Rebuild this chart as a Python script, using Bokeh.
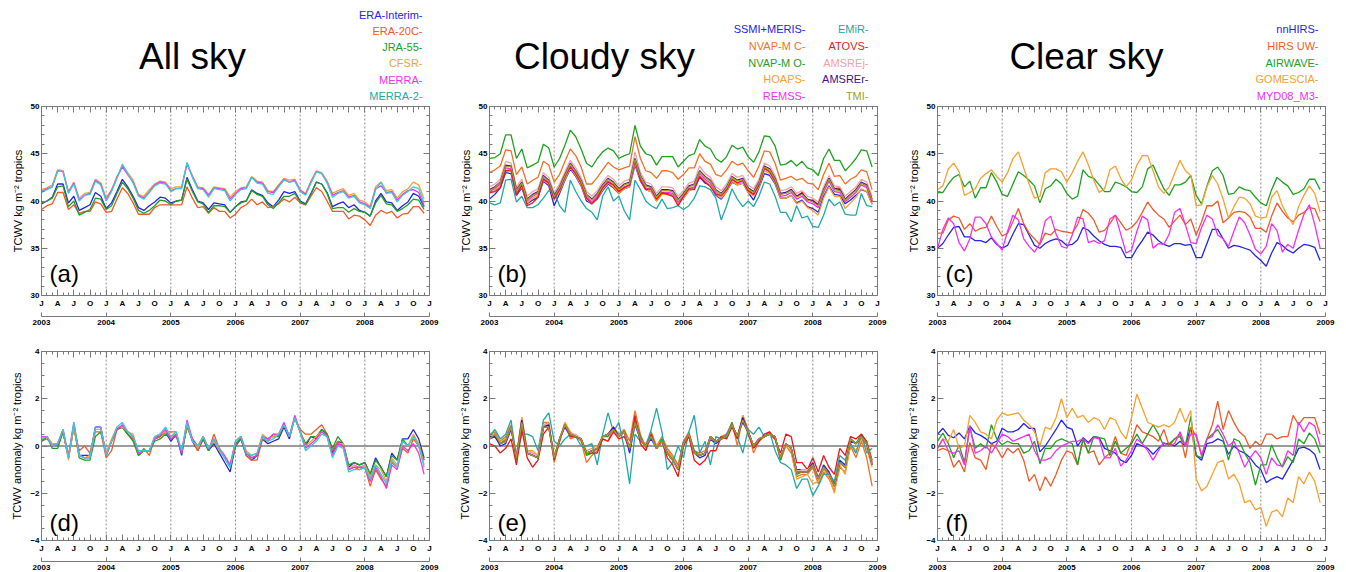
from bokeh.plotting import figure
from bokeh.models import Range1d, FixedTicker, LinearAxis, Span, Label, ColumnDataSource
from bokeh.layouts import column, row
from bokeh.embed import file_html
from bokeh.resources import INLINE
from bokeh.core.properties import value

FONT = "Liberation Sans"
GRAY = "#7a7a7a"

# ---------------- axes / categories ----------------
MONTHS = list(range(72))                 # Jan 2003 ... Dec 2008 (month index)
QUARTER_TICKS = list(range(0, 73, 3))
MONTH_TICKS = list(range(0, 73))
QUARTER_LABELS = ["J", "A", "J", "O"]
YEAR_TICKS = list(range(0, 73, 12))
YEAR_LABELS = ["2003", "2004", "2005", "2006", "2007", "2008", "2009"]
TOP_YTICKS = [30, 35, 40, 45, 50]
TOP_YMINOR = list(range(30, 51))
BOT_YTICKS = [-4, -2, 0, 2, 4]
BOT_YMINOR = [v / 2 for v in range(-8, 9)]

TITLES = ["All sky", "Cloudy sky", "Clear sky"]
YLABEL_TOP = "TCWV kg m\u207b\u00b2 tropics"
YLABEL_BOT = "TCWV anomaly kg m\u207b\u00b2 tropics"

# ---------------- All sky (a) ----------------
ALL_NAMES = ["ERA-Interim", "ERA-20C", "JRA-55", "CFSR", "MERRA", "MERRA-2"]
ALL_TEXT_COLORS = ["#2424e8", "#f05a28", "#20a020", "#f8a030", "#f030f0", "#20a8a8"]
ALL_LINE_COLORS = ["#2424e8", "#f05a28", "#20a020", "#f8a030", "#f030f0", "#33ccdd"]

A_ERAI = [39.7,40.0,40.4,41.8,41.8,39.8,40.5,39.0,39.3,39.6,40.9,40.5,
          39.2,39.8,41.0,42.3,41.5,40.5,39.3,39.0,39.5,39.9,40.4,40.3,
          39.8,40.0,40.1,42.5,41.2,40.0,39.8,39.1,39.8,39.7,39.6,38.8,
          39.4,39.9,40.0,41.2,40.8,40.6,39.8,39.4,40.1,41.0,40.8,41.0,
          40.0,39.7,40.8,42.0,41.8,40.9,39.4,39.7,39.9,39.3,39.6,39.0,
          38.8,38.4,40.0,40.8,39.9,39.8,39.0,39.5,39.9,40.8,40.5,39.4]
A_ERA20C = [39.1,39.5,39.7,40.9,40.9,39.1,39.6,38.7,38.9,38.9,39.9,39.7,
            38.8,38.9,40.2,41.4,40.8,39.8,38.6,38.6,38.6,39.3,39.6,39.6,
            39.6,39.6,39.6,41.5,40.3,39.3,39.4,38.7,39.3,38.9,38.9,38.2,
            38.6,39.3,39.6,40.2,39.6,39.9,39.3,39.4,39.7,40.2,39.9,40.4,
            39.8,39.6,40.5,41.4,41.0,40.0,38.9,38.9,38.9,38.1,38.5,38.4,
            38.0,37.4,38.5,39.0,38.7,38.9,38.2,38.6,38.7,39.4,39.4,38.7]
A_JRA55 = [39.8,40.0,40.3,41.5,41.6,39.4,40.0,38.5,38.8,39.1,40.3,40.2,
           39.1,39.5,40.8,42.0,41.3,40.3,39.0,38.7,39.0,39.5,40.1,40.0,
           39.6,40.0,40.1,42.3,41.0,39.9,39.7,38.8,39.5,39.5,39.4,38.8,
           39.4,39.8,40.0,41.1,40.7,40.5,39.6,39.2,39.8,40.5,40.5,40.8,
           39.9,39.6,40.7,42.0,41.8,40.8,39.2,39.3,39.3,38.8,39.2,38.9,
           38.8,38.4,39.8,40.6,39.7,39.6,38.9,39.2,39.6,40.2,40.1,39.1]
A_CFSR = [41.2,41.4,41.7,43.3,43.2,41.0,42.0,40.3,40.8,40.9,42.3,41.9,
          40.3,41.2,42.6,43.7,43.0,42.2,40.7,40.5,41.2,41.8,42.1,42.0,
          41.3,41.5,41.5,44.0,42.7,41.5,41.4,40.7,41.5,41.4,41.3,40.4,
          41.0,41.4,41.5,42.6,42.1,42.0,41.1,41.0,41.7,42.4,42.2,42.3,
          41.2,40.8,42.1,43.2,43.0,42.1,40.8,41.1,41.3,40.6,40.8,40.1,
          39.9,39.4,41.5,42.0,41.1,41.2,40.3,41.0,41.3,42.0,41.7,40.2]
A_MERRA = [41.0,41.3,41.5,43.2,43.1,40.9,41.9,40.1,40.6,40.8,42.2,41.8,
           40.1,41.1,42.5,43.6,42.8,42.0,40.6,40.3,41.0,41.7,42.0,41.9,
           41.1,41.3,41.4,43.9,42.6,41.4,41.3,40.6,41.4,41.3,41.2,40.2,
           40.8,41.3,41.4,42.5,42.0,41.9,41.0,40.9,41.6,42.3,42.0,42.2,
           41.1,40.7,42.0,43.1,42.9,42.0,40.6,40.9,41.1,40.4,40.6,39.9,
           39.7,39.3,41.3,41.6,40.9,41.0,40.1,40.7,41.1,41.2,40.9,39.5]
A_MERRA2 = [40.9,41.2,41.5,43.2,43.1,40.8,41.8,40.0,40.6,40.7,42.1,41.7,
            40.0,41.0,42.4,43.9,42.9,41.9,40.5,40.2,40.9,41.6,41.9,41.8,
            41.0,41.3,41.3,44.1,42.5,41.3,41.2,40.4,41.3,41.2,41.1,40.0,
            40.7,41.2,41.3,42.5,41.9,41.8,40.8,40.7,41.5,42.2,42.0,42.1,
            41.0,40.6,41.9,43.1,42.9,41.9,40.4,40.8,41.0,40.3,40.5,39.8,
            39.6,39.2,41.2,42.0,40.8,40.9,39.9,40.6,41.0,41.5,41.3,39.8]

# ---------------- All sky anomalies (d) ----------------
D_ERAI = [0.2,0.4,0.0,0.1,0.6,-0.5,0.9,-0.4,-0.4,-0.4,0.8,0.8,
          -0.4,0.2,0.7,0.8,0.5,0.3,-0.3,-0.2,-0.2,0.3,0.4,0.6,
          0.2,0.5,-0.4,0.9,0.2,-0.2,0.3,-0.2,0.1,-0.3,-0.7,-1.1,
          0.0,0.3,-0.4,-0.6,-0.4,0.3,0.1,0.2,0.3,0.8,0.3,1.2,
          0.6,0.0,0.4,0.3,0.7,0.5,-0.3,0.2,0.1,-0.9,-0.7,-0.8,
          -0.7,-1.2,-0.5,-0.9,-1.3,-0.3,-0.6,0.3,0.3,0.7,0.3,-0.5]
D_ERA20C = [0.2,0.3,0.1,0.0,0.6,-0.5,0.8,-0.2,0.0,-0.3,0.6,0.6,
            -0.5,-0.2,0.7,0.8,0.5,0.3,-0.4,-0.1,-0.4,0.3,0.4,0.6,
            0.6,0.6,-0.3,0.8,0.3,-0.2,0.3,-0.2,0.5,-0.1,-0.5,-0.9,
            0.0,0.4,-0.4,-0.6,-0.6,0.3,0.2,0.5,0.4,0.9,0.4,1.2,
            0.7,0.5,0.5,0.7,0.9,0.5,-0.2,0.2,0.0,-1.0,-0.9,-1.0,
            -0.9,-1.7,-1.0,-1.4,-1.7,-0.7,-0.9,-0.1,-0.3,0.3,0.0,-0.6]
D_JRA55 = [0.2,0.4,-0.1,-0.1,0.6,-0.5,0.8,-0.5,-0.6,-0.6,0.4,0.6,
           -0.3,0.2,0.7,0.8,0.5,0.2,-0.4,-0.2,-0.2,0.2,0.3,0.5,
           0.3,0.4,-0.2,0.8,0.3,-0.1,0.3,-0.2,0.2,-0.2,-0.5,-0.9,
           0.1,0.3,-0.3,-0.5,-0.4,0.4,0.3,0.4,0.4,0.9,0.4,1.2,
           0.6,0.1,0.4,0.4,0.7,0.5,-0.1,0.4,0.1,-0.8,-0.7,-0.8,
           -0.7,-1.2,-0.6,-0.9,-1.3,-0.4,-0.6,0.3,0.0,0.4,0.1,-0.6]
D_CFSR = [0.3,0.4,0.1,0.1,0.7,-0.6,0.8,-0.4,-0.5,-0.4,0.7,0.7,
          -0.3,0.3,0.8,0.8,0.6,0.5,-0.3,-0.2,-0.2,0.4,0.5,0.6,
          0.4,0.5,-0.2,0.9,0.3,-0.1,0.4,-0.1,0.2,-0.2,-0.5,-0.8,
          0.2,0.4,-0.2,-0.4,-0.3,0.5,0.3,0.4,0.5,0.9,0.4,1.2,
          0.6,0.0,0.2,0.4,0.6,0.4,-0.4,0.1,0.1,-1.0,-0.8,-0.9,
          -0.8,-1.3,-0.8,-1.0,-1.5,-0.5,-0.8,0.2,0.0,0.5,0.1,-0.8]
D_MERRA = [0.4,0.4,0.0,0.1,0.7,-0.4,1.0,-0.4,-0.5,-0.5,0.8,0.8,
           -0.4,0.2,0.7,0.9,0.6,0.4,-0.3,-0.2,-0.2,0.3,0.5,0.7,
           0.3,0.5,-0.3,1.1,0.3,0.0,0.4,-0.1,0.3,-0.1,-0.4,-0.8,
           0.2,0.4,-0.3,-0.5,-0.4,0.4,0.3,0.5,0.5,1.0,0.4,1.3,
           0.6,-0.1,0.1,0.3,0.6,0.4,-0.4,0.1,0.0,-1.0,-0.9,-0.9,
           -0.9,-1.5,-0.9,-1.3,-1.8,-0.8,-1.0,0.0,-0.2,0.1,-0.3,-1.2]
D_MERRA2 = [0.3,0.4,0.0,0.1,0.7,-0.5,1.0,-0.4,-0.5,-0.5,0.8,0.8,
            -0.4,0.2,0.8,1.0,0.6,0.4,-0.2,-0.2,-0.2,0.4,0.5,0.8,
            0.4,0.6,-0.2,1.0,0.2,0.0,0.4,-0.1,0.3,-0.1,-0.5,-0.9,
            0.2,0.4,-0.3,-0.4,-0.3,0.4,0.2,0.3,0.5,0.9,0.4,1.2,
            0.6,-0.2,0.0,0.2,0.5,0.4,-0.5,0.0,-0.1,-1.1,-1.0,-1.0,
            -0.9,-1.4,-0.8,-1.2,-1.6,-0.6,-0.9,0.2,0.0,0.4,0.0,-0.9]

# ---------------- Cloudy sky (b) ----------------
CLD_NAMES = ["SSMI+MERIS", "NVAP-M C", "NVAP-M O", "HOAPS", "REMSS",
             "EMiR", "ATOVS", "AMSREj", "AMSREr", "TMI"]
CLD_COLORS = ["#2424e8", "#f07028", "#20a020", "#f8a030", "#f030f0",
              "#20a8a8", "#e81818", "#f4a0a8", "#3a1090", "#a0a020"]

B_SSMI = [40.2,40.7,41.4,43.0,42.9,40.6,41.4,39.7,40.1,40.4,42.1,41.6,
          39.5,40.8,42.2,43.4,42.6,41.6,40.0,39.7,40.2,41.1,41.8,41.4,
          40.8,41.3,41.5,43.8,42.1,41.2,41.0,40.0,40.8,40.8,40.6,39.7,
          40.3,41.1,41.3,42.5,41.9,41.7,40.6,40.2,41.0,42.0,41.7,41.9,
          40.9,40.1,41.4,42.9,42.7,41.8,40.3,40.3,40.6,39.8,40.1,39.4,
          39.2,38.8,40.5,41.6,40.7,40.6,39.7,40.1,40.6,41.2,41.0,39.7]
B_NVAPC = [43.0,43.3,43.7,45.4,45.3,42.8,43.6,41.8,42.2,42.5,44.2,43.8,
           42.0,42.8,44.2,45.5,44.8,43.6,41.8,41.8,42.5,43.3,44.1,43.6,
           43.3,43.5,43.7,46.8,44.5,43.2,43.0,42.4,43.2,43.2,43.0,42.3,
           42.8,43.5,43.5,45.0,44.2,43.9,42.8,42.6,43.3,44.2,43.8,44.0,
           43.2,42.5,43.7,45.3,45.2,44.0,42.2,42.4,42.6,42.2,42.4,41.9,
           41.8,41.2,42.8,44.0,42.6,42.7,41.8,42.3,42.6,43.3,43.1,41.2]
B_NVAPO = [44.5,44.6,45.0,47.0,47.0,44.5,45.5,43.5,43.8,44.1,46.0,45.6,
           43.6,44.5,45.9,47.5,46.8,45.5,44.0,43.6,44.5,45.2,45.6,45.3,
           44.5,44.8,45.0,48.0,45.8,45.0,44.8,43.8,44.7,44.7,44.7,43.6,
           44.2,44.8,45.0,46.5,45.8,45.5,44.5,44.1,44.7,45.9,45.5,45.7,
           44.7,44.1,45.2,46.9,46.8,45.8,43.8,43.9,44.3,43.7,44.2,43.5,
           43.3,42.7,44.5,45.5,44.3,44.3,43.2,43.8,44.5,45.4,45.3,43.6]
B_HOAPS = [40.8,41.1,41.6,43.2,43.1,40.8,41.5,39.8,40.3,40.6,42.2,41.8,
           40.1,41.0,42.3,43.5,42.7,41.7,40.2,39.7,40.3,41.2,41.9,41.5,
           40.8,41.3,41.5,44.0,42.2,41.2,41.0,40.0,40.7,40.7,40.6,39.7,
           40.3,41.1,41.3,42.7,42.1,41.7,40.7,40.3,41.0,42.1,41.7,41.9,
           40.9,40.5,41.5,43.2,42.9,41.9,40.3,40.3,40.6,39.7,40.0,39.3,
           39.0,38.5,40.3,41.5,40.5,40.5,39.2,39.8,40.4,41.3,41.0,39.6]
B_REMSS = [41.0,41.3,41.8,43.5,43.4,40.9,41.8,40.0,40.5,40.8,42.4,41.9,
           40.3,41.2,42.5,43.7,42.9,41.9,40.4,39.9,40.5,41.4,42.1,41.7,
           41.0,41.5,41.7,44.1,42.4,41.4,41.2,40.2,40.9,40.9,40.8,39.9,
           40.5,41.3,41.5,42.9,42.3,41.9,40.9,40.5,41.2,42.3,41.9,42.1,
           41.1,40.7,41.7,43.4,43.1,42.1,40.5,40.6,40.9,40.2,40.5,39.9,
           39.7,39.3,40.9,42.1,41.0,40.9,39.9,40.4,40.9,41.7,41.4,39.9]
B_EMIR = [39.8,39.6,39.8,42.2,42.3,39.9,40.5,39.3,39.3,39.6,40.3,41.1,
          41.0,39.5,38.8,42.2,41.0,40.0,39.2,38.8,38.0,40.5,41.5,40.0,
          40.5,39.0,38.0,42.2,41.2,40.0,39.5,39.2,40.2,39.2,39.3,39.5,
          39.1,39.5,40.3,41.6,41.5,41.2,40.3,38.0,39.5,41.3,40.2,39.4,
          40.0,39.4,40.5,42.0,41.8,40.5,38.8,38.8,37.8,39.5,38.2,38.4,
          37.3,37.2,38.5,40.2,39.5,39.9,38.6,38.5,38.5,40.8,39.5,39.4]
B_ATOVS = [40.9,41.0,41.4,43.2,43.3,40.6,41.7,39.5,39.8,40.4,42.3,41.9,
           40.2,41.2,42.6,43.6,42.9,41.9,40.3,39.7,40.3,41.4,42.0,41.7,
           41.0,41.4,41.7,44.4,42.2,41.2,41.3,40.2,40.9,40.7,40.5,39.5,
           40.5,41.3,41.2,42.6,42.0,41.5,40.7,40.6,41.2,42.3,41.9,42.2,
           41.1,40.7,41.7,43.5,43.1,42.1,40.7,40.9,41.2,40.5,40.9,40.1,
           40.1,39.6,41.3,42.3,41.3,41.4,40.1,40.7,41.2,41.9,41.6,40.0]
B_AMSREJ = [41.5,41.8,42.3,44.2,44.0,41.5,42.3,40.5,41.0,41.3,43.0,42.5,
            40.9,41.8,43.1,44.3,43.5,42.5,41.0,40.5,41.1,42.0,42.7,42.3,
            41.6,42.1,42.3,45.2,43.0,42.0,41.8,40.8,41.5,41.5,41.4,40.5,
            41.1,41.9,42.1,43.7,42.9,42.5,41.5,41.1,41.8,42.9,42.5,42.7,
            41.7,41.3,42.3,44.0,43.7,42.7,41.1,41.2,41.5,40.8,41.1,40.5,
            40.3,39.9,41.5,42.7,41.6,41.5,40.5,41.0,41.5,42.3,42.0,40.5]
B_AMSRER = [41.2,41.5,42.0,43.8,43.7,41.2,42.0,40.2,40.7,41.0,42.7,42.2,
            40.6,41.5,42.8,44.0,43.2,42.2,40.7,40.2,40.8,41.7,42.4,42.0,
            41.3,41.8,42.0,44.5,42.7,41.7,41.5,40.5,41.2,41.2,41.1,40.2,
            40.8,41.6,41.8,43.2,42.6,42.2,41.2,40.8,41.5,42.6,42.2,42.4,
            41.4,41.0,42.0,43.7,43.4,42.4,40.8,40.9,41.2,40.5,40.8,40.2,
            40.0,39.6,41.2,42.4,41.3,41.2,40.2,40.7,41.2,42.0,41.7,40.2]
B_TMI = [41.1,41.4,42.0,43.7,43.6,41.1,41.9,40.1,40.6,40.9,42.6,42.1,
         40.5,41.4,42.7,43.9,43.1,42.1,40.6,40.1,40.7,41.6,42.3,41.9,
         41.2,41.7,41.9,44.4,42.6,41.6,41.4,40.4,41.1,41.1,41.0,40.1,
         40.7,41.5,41.7,43.1,42.5,42.1,41.1,40.7,41.4,42.5,42.1,42.3,
         41.3,40.9,41.9,43.6,43.3,42.3,40.7,40.8,41.1,40.4,40.7,40.1,
         39.9,39.5,41.1,42.3,41.2,41.1,40.1,40.6,41.1,41.9,41.6,40.1]

# ---------------- Cloudy sky anomalies (e) ----------------
E_SSMI = [0.3,0.4,0.0,0.1,0.7,-0.4,1.0,-0.3,-0.4,-0.5,0.8,0.8,
          -0.5,0.3,0.8,0.4,0.4,0.3,-0.3,-0.2,-0.1,0.4,0.5,0.7,
          0.4,0.6,-0.3,0.9,0.3,0.0,0.3,-0.1,0.2,-0.3,-0.6,-0.9,
          0.2,0.5,-0.3,-0.5,-0.4,0.3,0.1,0.3,0.4,0.9,0.4,1.0,
          0.6,0.0,0.3,0.4,0.5,0.3,-0.5,0.1,-0.1,-1.0,-1.0,-1.0,
          -0.7,-1.4,-0.8,-1.1,-1.6,-0.6,-0.8,0.2,0.1,0.3,0.1,-0.7]
E_NVAPC = [0.5,0.6,0.2,0.4,0.9,-0.5,1.2,-0.2,-0.3,-0.4,1.0,1.0,
           -0.7,0.2,1.0,0.3,0.4,0.2,-0.7,-0.4,-0.2,0.3,0.2,0.8,
           0.5,0.7,0.2,1.5,0.5,-0.1,0.6,0.0,0.4,-0.1,-0.4,-0.8,
           0.2,0.6,-0.2,-0.3,-0.2,0.3,0.2,0.4,0.5,1.0,0.0,1.3,
           0.7,-0.3,0.2,0.4,0.5,0.3,-0.6,0.0,-0.3,-1.3,-1.2,-1.2,
           -0.9,-1.6,-1.1,-1.4,-1.9,-0.9,-1.1,0.0,-0.5,0.2,-0.5,-1.7]
E_NVAPO = [0.4,0.5,0.1,0.3,0.8,-0.6,1.1,-0.3,-0.4,-0.5,0.9,0.9,
           -0.5,0.3,0.9,0.5,0.4,0.3,-0.4,-0.3,-0.1,0.4,0.4,0.8,
           0.4,0.6,-0.1,1.1,0.4,0.0,0.5,-0.1,0.3,-0.2,-0.5,-0.9,
           0.1,0.5,-0.2,-0.4,-0.3,0.4,0.2,0.3,0.4,1.0,0.3,1.2,
           0.6,0.0,0.3,0.4,0.5,0.4,-0.6,0.1,-0.1,-1.2,-1.1,-1.1,
           -0.8,-1.3,-0.9,-1.2,-1.7,-0.7,-0.9,0.3,0.1,0.5,0.1,-0.8]
E_HOAPS = [0.5,0.5,0.2,0.3,0.8,-0.4,1.2,-0.2,-0.2,-0.4,0.9,1.0,
           -0.4,0.3,1.0,0.6,0.4,0.3,-0.2,-0.1,0.0,0.4,0.5,0.8,
           0.4,0.6,-0.1,1.0,0.3,0.1,0.5,0.0,0.2,-0.2,-0.5,-0.9,
           0.1,0.4,-0.3,-0.4,-0.3,0.4,0.2,0.3,0.4,0.9,0.4,1.3,
           0.6,0.0,0.3,0.4,0.5,0.4,-0.5,0.0,-0.2,-1.4,-1.3,-1.2,
           -1.6,-1.5,-1.0,-1.3,-2.0,-0.8,-1.2,0.1,-0.2,0.3,-0.1,-0.9]
E_REMSS = [0.4,0.5,0.1,0.2,0.8,-0.5,1.1,-0.3,-0.4,-0.5,0.8,0.9,
           -0.5,0.3,0.9,0.5,0.4,0.3,-0.3,-0.2,-0.1,0.4,0.5,0.8,
           0.4,0.6,-0.1,1.0,0.3,0.0,0.4,-0.1,0.2,-0.3,-0.6,-1.0,
           0.1,0.5,-0.3,-0.4,-0.3,0.4,0.2,0.3,0.4,0.9,0.4,1.2,
           0.6,0.0,0.3,0.4,0.5,0.4,-0.5,0.1,-0.1,-1.1,-1.1,-1.1,
           -0.8,-1.4,-0.9,-1.2,-1.7,-0.7,-0.9,0.3,0.1,0.4,0.1,-0.8]
E_EMIR = [0.4,0.7,0.3,0.5,1.1,-0.5,0.5,0.5,0.4,-0.2,1.1,1.4,
          0.2,0.0,0.3,0.5,0.4,0.0,0.0,0.1,-0.8,0.5,1.4,0.6,
          1.0,-0.1,-1.6,0.5,0.2,0.0,0.7,1.6,0.6,-1.0,-0.7,0.0,
          -0.5,0.6,1.3,-0.3,0.2,-0.8,0.4,0.3,0.5,0.9,0.4,-0.3,
          0.7,0.5,0.8,0.4,0.6,-0.2,-0.7,-0.8,-1.0,-1.8,-1.4,-1.4,
          -2.1,-1.7,-1.2,-1.2,-1.5,-0.4,-0.6,0.1,-0.3,0.5,-0.3,-0.1]
E_ATOVS = [0.1,0.0,-0.3,-0.1,0.3,-0.8,0.7,-0.5,-0.9,-0.6,0.5,0.8,
           -0.6,0.2,0.9,0.4,0.4,0.3,-0.3,-0.3,-0.3,0.3,0.2,0.6,
           0.3,0.4,-0.1,1.3,0.1,-0.2,0.5,-0.1,0.2,-0.5,-0.8,-1.3,
           0.0,0.4,-0.6,-0.8,-0.6,-0.2,-0.2,0.4,0.3,0.8,0.3,1.2,
           0.5,-0.1,0.2,0.5,0.6,0.3,-0.3,0.5,0.4,-0.7,-0.7,-1.0,
           -0.5,-1.1,-0.4,-0.9,-1.2,-0.1,-0.4,0.4,0.3,0.5,0.2,-0.6]
E_AMSREJ = [0.4,0.5,0.1,0.2,0.8,-0.4,1.1,-0.2,-0.3,-0.4,0.9,0.9,
            -0.5,0.3,0.9,0.5,0.5,0.3,-0.3,-0.2,-0.1,0.4,0.5,0.8,
            0.4,0.6,-0.1,1.0,0.3,0.0,0.4,-0.1,0.2,-0.3,-0.6,-0.9,
            0.1,0.5,-0.3,-0.4,-0.3,0.4,0.2,0.3,0.4,0.9,0.4,1.2,
            0.6,0.0,0.3,0.4,0.5,0.4,-0.5,0.1,-0.1,-1.1,-1.0,-1.0,
            -0.8,-1.4,-0.9,-1.2,-1.7,-0.7,-0.9,0.3,0.1,0.4,0.1,-0.7]
E_AMSRER = [0.4,0.4,0.1,0.2,0.8,-0.5,1.1,-0.3,-0.4,-0.5,0.8,0.9,
            -0.5,0.3,0.9,0.5,0.4,0.3,-0.3,-0.2,-0.1,0.4,0.5,0.8,
            0.4,0.6,-0.1,1.0,0.3,0.0,0.4,-0.1,0.2,-0.3,-0.6,-1.0,
            0.1,0.5,-0.3,-0.4,-0.3,0.4,0.2,0.3,0.4,0.9,0.4,1.2,
            0.6,0.0,0.3,0.4,0.5,0.4,-0.5,0.1,-0.1,-1.1,-1.1,-1.1,
            -0.8,-1.4,-0.9,-1.2,-1.7,-0.7,-0.9,0.3,0.1,0.4,0.1,-0.8]
E_TMI = [0.3,0.5,0.1,0.2,0.8,-0.5,1.0,-0.3,-0.4,-0.5,0.8,0.8,
         -0.5,0.3,0.9,0.5,0.4,0.3,-0.3,-0.2,-0.1,0.4,0.5,0.7,
         0.4,0.6,-0.1,1.0,0.3,0.0,0.4,-0.1,0.2,-0.3,-0.6,-1.0,
         0.1,0.5,-0.3,-0.4,-0.3,0.4,0.2,0.3,0.4,0.9,0.4,1.1,
         0.6,0.0,0.3,0.4,0.5,0.4,-0.5,0.1,-0.1,-1.1,-1.1,-1.1,
         -0.8,-1.4,-0.9,-1.2,-1.7,-0.7,-0.9,0.3,0.1,0.4,0.1,-0.8]

# ---------------- Clear sky (c) ----------------
CLR_NAMES = ["nnHIRS", "HIRS UW", "AIRWAVE", "GOMESCIA", "MYD08_M3"]
CLR_COLORS = ["#2424e8", "#f05a28", "#20a020", "#f8a030", "#f030f0"]

C_NNHIRS = [35.0,35.5,36.4,37.2,37.3,36.2,36.2,35.8,35.8,35.6,36.1,35.4,
            35.0,35.3,36.5,37.6,37.5,36.4,35.3,35.0,35.5,35.8,36.0,35.8,
            35.3,35.4,35.9,37.2,36.9,36.3,35.8,35.4,35.2,35.2,35.1,34.0,
            34.0,35.0,35.8,36.7,36.4,35.8,35.4,35.2,35.5,35.5,35.3,35.4,
            34.0,34.0,35.5,37.0,37.0,36.0,35.0,35.3,35.2,35.0,34.8,34.2,
            33.7,33.1,34.5,35.6,35.3,34.8,34.5,35.0,35.4,35.3,35.1,33.7]
C_HIRSUW = [36.6,36.6,38.0,38.4,38.2,37.0,37.6,36.8,37.1,37.2,38.4,37.3,
            36.3,36.6,37.8,39.2,37.6,36.6,36.0,35.4,36.6,36.4,37.0,36.8,
            36.7,36.6,37.5,39.1,38.7,38.0,36.7,36.9,37.6,38.5,37.7,36.9,
            37.2,37.8,38.8,39.9,39.1,38.5,38.1,37.2,37.9,38.5,37.5,38.1,
            36.4,37.8,39.5,39.5,40.0,37.7,38.2,38.8,38.9,38.8,38.3,37.1,
            37.1,36.7,38.4,39.8,38.9,38.2,37.8,38.5,38.8,39.3,39.2,37.8]
C_AIRWAVE = [40.9,40.9,41.8,42.5,42.8,41.5,42.1,40.3,41.4,41.4,43.0,42.0,
             40.7,40.5,41.8,43.1,42.7,42.2,41.6,39.8,41.3,41.6,42.3,41.8,
             40.8,40.2,40.5,43.3,42.6,42.4,41.7,41.0,41.0,42.0,41.8,41.5,
             41.0,40.9,41.5,43.4,43.8,42.5,41.3,40.6,41.7,41.7,42.0,42.7,
             40.6,39.7,41.6,43.2,43.6,42.7,40.7,40.8,41.5,41.2,41.1,40.4,
             39.8,39.5,41.2,42.5,42.0,41.6,40.7,40.9,41.3,42.3,42.3,41.2]
C_GOMESCIA = [41.2,41.6,43.4,44.0,43.1,40.6,40.9,41.3,42.4,42.9,43.3,42.6,
              42.0,43.0,44.5,45.2,43.5,41.8,40.3,40.5,43.0,43.4,43.4,43.1,
              42.0,43.0,44.2,45.2,43.8,42.2,40.9,41.3,43.3,43.7,42.4,41.5,
              42.2,43.8,44.8,44.8,43.2,41.5,40.8,41.5,42.9,44.3,43.2,42.7,
              39.5,39.6,41.5,42.7,41.8,40.2,38.2,39.4,40.4,40.3,39.7,38.4,
              38.2,38.3,40.4,41.1,39.5,38.4,37.5,39.4,40.6,41.6,40.8,38.8]
C_MYD08 = [35.0,37.0,38.2,37.6,35.6,34.7,36.0,38.3,38.3,37.6,36.2,35.5,
           34.8,36.8,38.5,38.0,36.0,35.2,34.6,35.5,37.9,38.4,36.5,35.2,
           35.0,36.4,38.3,38.1,35.6,35.8,35.5,35.8,38.1,38.5,36.5,34.5,
           34.8,36.8,38.4,38.0,35.0,35.5,35.4,36.5,38.8,39.2,37.5,35.6,
           35.5,37.2,38.5,38.1,36.4,36.0,35.2,36.8,38.3,37.7,36.4,34.9,
           34.4,35.2,37.6,36.9,34.6,35.4,35.0,36.9,38.6,39.6,37.5,35.0]

# ---------------- Clear sky anomalies (f) ----------------
F_NNHIRS = [0.5,0.75,0.45,0.35,0.55,0.3,0.85,0.55,0.45,0.3,0.1,0.2,
            0.75,0.6,0.6,0.7,0.95,0.75,0.75,-0.25,0.0,0.35,0.7,1.1,
            0.8,0.7,0.0,0.35,0.15,0.4,0.35,-0.1,-0.2,-0.3,-0.6,-0.7,
            -0.4,0.1,0.0,-0.1,-0.35,-0.1,0.1,0.1,0.0,0.2,0.0,0.8,
            -0.4,-0.6,0.1,0.15,0.3,0.2,-0.35,0.0,-0.2,-0.3,-0.5,-0.8,
            -1.0,-1.55,-1.4,-1.3,-1.4,-1.0,-0.6,-0.1,-0.05,-0.15,-0.35,-1.0]
F_HIRSUW = [-0.2,-0.1,-0.2,-0.9,-0.6,-1.1,0.15,-0.5,-0.6,-1.0,0.1,-0.1,
            -0.5,-0.1,-0.3,-0.1,-0.6,-1.5,-1.2,-1.9,-1.3,-1.7,-1.2,-0.6,
            -0.2,-0.3,-0.8,0.3,-0.3,-0.2,-0.8,-0.5,-0.3,0.4,-0.3,-0.4,
            0.2,0.9,0.6,0.5,0.4,0.2,0.7,0.0,0.3,0.5,-0.5,0.8,
            0.4,-0.4,0.3,0.9,1.9,0.7,1.5,1.0,0.6,0.4,-0.1,0.2,
            0.0,0.5,0.5,0.3,0.4,0.4,1.3,0.9,1.2,1.2,1.2,0.5]
F_AIRWAVE = [0.2,0.55,0.1,-0.5,0.05,-0.7,0.8,-0.1,0.1,-0.1,0.9,0.3,
             0.05,0.2,0.1,0.1,-0.3,-0.2,0.2,-0.75,-0.1,-0.1,0.2,0.3,
             0.2,0.1,-0.8,0.3,-0.3,0.4,0.35,0.3,-0.4,0.2,-0.3,-0.1,
             0.1,0.5,0.1,0.5,0.9,0.5,0.0,0.1,0.3,0.4,0.0,1.25,
             -0.4,-0.5,0.3,0.5,0.7,0.3,-0.6,0.3,0.2,-0.3,-0.7,-1.65,
             -0.8,-0.8,0.05,-0.5,-0.9,-0.45,-0.7,0.3,0.1,0.55,0.3,-0.3]
F_GOMESCIA = [-0.1,0.3,0.2,0.7,-0.1,0.0,1.3,1.0,0.6,0.5,0.3,1.1,
              1.4,1.3,1.35,1.4,1.1,0.9,0.6,0.0,0.8,0.7,1.2,2.0,
              1.2,1.6,1.2,1.3,1.0,1.2,1.1,0.7,1.2,1.1,0.6,0.3,
              1.2,2.2,1.6,1.0,0.9,0.8,0.9,0.8,1.0,1.6,1.0,1.5,
              -1.4,-1.9,-1.7,-1.2,-0.7,-0.6,-1.4,-1.2,-1.6,-2.4,-2.3,-2.7,
              -2.6,-3.4,-2.8,-2.7,-3.0,-2.2,-2.4,-1.3,-1.6,-1.1,-1.5,-2.4]
F_MYD08 = [-0.1,0.3,-0.2,-0.3,-0.2,-0.8,0.85,-0.3,-0.2,0.0,-0.3,0.1,
           0.5,0.4,0.2,0.3,0.4,0.5,-0.2,-0.6,-0.6,-0.5,-0.2,0.0,
           0.1,0.2,0.2,0.3,0.1,0.35,0.3,-0.5,-0.5,-0.1,-0.85,-0.6,
           -0.2,0.3,0.1,-0.2,-0.6,-0.2,0.15,0.0,0.1,0.6,0.0,0.5,
           0.5,-0.4,0.3,0.4,0.9,0.5,0.0,0.2,-0.3,-0.9,-0.5,-0.2,
           -0.5,-1.2,-0.5,-0.8,-0.85,-0.2,-0.4,1.0,0.6,1.0,0.85,0.05]

# ---------------- helpers ----------------
def overrides(ticks, labels):
    d = {}
    for t, l in zip(ticks, labels):
        d[t] = l
        d[str(t)] = l
    return d


def style(ax, major_in=6, minor_in=3):
    ax.axis_line_color = GRAY
    ax.axis_line_width = 1
    ax.major_tick_line_color = GRAY
    ax.minor_tick_line_color = GRAY
    ax.major_tick_in = major_in
    ax.major_tick_out = 0
    ax.minor_tick_in = minor_in
    ax.minor_tick_out = 0
    ax.major_label_text_font = FONT
    ax.major_label_text_font_size = "8px"
    ax.major_label_text_font_style = "bold"
    ax.major_label_text_color = "black"


def blank(ax, ticks):
    ax.major_label_overrides = overrides(ticks, [""] * len(ticks))
    ax.major_label_text_font_size = "1px"
    ax.major_label_standoff = 0


def panel(width, border_right, top, series, letter, letter_y):
    yr = (30, 50) if top else (-4, 4)
    yticks = TOP_YTICKS if top else BOT_YTICKS
    yminor = TOP_YMINOR if top else BOT_YMINOR
    p = figure(width=width, height=231 if top else 239,
               x_range=Range1d(0, 72), y_range=Range1d(*yr),
               output_backend="svg", toolbar_location=None, tools="",
               min_border_left=31, min_border_right=border_right,
               min_border_top=4 if top else 18,
               min_border_bottom=38 if top else 32)
    p.xgrid.visible = False
    p.ygrid.visible = False
    p.outline_line_color = GRAY

    xa = p.xaxis[0]
    xa.ticker = FixedTicker(ticks=QUARTER_TICKS, minor_ticks=MONTH_TICKS)
    style(xa)
    xa.major_label_overrides = overrides(
        QUARTER_TICKS, [QUARTER_LABELS[i % 4] for i in range(len(QUARTER_TICKS))])
    xa.major_label_standoff = 3
    xa.axis_label = " "
    xa.axis_label_text_font_size = "3px"
    xa.axis_label_standoff = 0

    yax = LinearAxis(ticker=FixedTicker(ticks=YEAR_TICKS, minor_ticks=[]))
    style(yax, major_in=4, minor_in=0)
    yax.major_label_overrides = overrides(YEAR_TICKS, YEAR_LABELS)
    yax.major_label_standoff = 3
    p.add_layout(yax, "below")

    ta = LinearAxis(ticker=FixedTicker(ticks=QUARTER_TICKS, minor_ticks=MONTH_TICKS))
    style(ta)
    blank(ta, QUARTER_TICKS)
    p.add_layout(ta, "above")

    la = p.yaxis[0]
    la.ticker = FixedTicker(ticks=yticks, minor_ticks=yminor)
    style(la)
    la.major_label_standoff = 2
    la.axis_label = YLABEL_TOP if top else YLABEL_BOT
    la.axis_label_text_font = FONT
    la.axis_label_text_font_size = "11px"
    la.axis_label_text_font_style = "normal"
    la.axis_label_text_color = "black"
    la.axis_label_standoff = 4

    ra = LinearAxis(ticker=FixedTicker(ticks=yticks, minor_ticks=yminor))
    style(ra)
    blank(ra, yticks)
    p.add_layout(ra, "right")

    for t in YEAR_TICKS[1:-1]:
        p.add_layout(Span(location=t, dimension="height", line_color="#8c8c8c",
                          line_dash="2 2", line_width=1, level="underlay"))
    if not top:
        p.add_layout(Span(location=0, dimension="width", line_color="#7a7a7a",
                          line_width=1.5, level="underlay"))

    for vals, color in series:
        p.line(MONTHS, vals, line_color=color, line_width=1.3)

    p.add_layout(Label(x=1.5, y=letter_y, text=letter, text_font=FONT,
                       text_font_size="24px", text_color="black",
                       text_baseline="alphabetic"))
    return p


# ---------------- header (titles + legends) ----------------
hdr = figure(width=1330, height=94, x_range=Range1d(0, 1330), y_range=Range1d(0, 94),
             output_backend="svg", toolbar_location=None, tools="",
             x_axis_type=None, y_axis_type=None, min_border=0)
hdr.outline_line_color = None

hdr.text(x=[184, 596, 1078], y=[46, 46, 46], text=TITLES,
         text_font=value(FONT), text_font_size="37px", text_align="center",
         text_baseline="alphabetic", text_color="black")

lx, ly, lt, lc = [], [], [], []
for i, (n, c) in enumerate(zip(ALL_NAMES, ALL_TEXT_COLORS)):
    lx.append(414); ly.append(88.0 - 16.3 * i); lt.append(n + "-"); lc.append(c)
for i, (n, c) in enumerate(zip(CLD_NAMES[:5], CLD_COLORS[:5])):
    lx.append(797); ly.append(73.2 - 16.6 * i); lt.append(n + "-"); lc.append(c)
for i, (n, c) in enumerate(zip(CLD_NAMES[5:], CLD_COLORS[5:])):
    lx.append(860); ly.append(73.2 - 16.6 * i); lt.append(n + "-"); lc.append(c)
for i, (n, c) in enumerate(zip(CLR_NAMES, CLR_COLORS)):
    lx.append(1310); ly.append(73.2 - 16.6 * i); lt.append(n + "-"); lc.append(c)
leg = ColumnDataSource(dict(x=lx, y=ly, text=lt, color=lc))
hdr.text(x="x", y="y", text="text", text_color="color", source=leg,
         text_font=value(FONT), text_font_size="11px", text_align="right",
         text_baseline="middle")

# ---------------- panels ----------------
pa = panel(448, 27, True, list(zip([A_ERAI, A_ERA20C, A_JRA55, A_CFSR, A_MERRA, A_MERRA2],
                                   ALL_LINE_COLORS)), "(a)", 32.3)
pb = panel(448, 27, True, list(zip([B_SSMI, B_NVAPC, B_NVAPO, B_HOAPS, B_REMSS,
                                    B_EMIR, B_ATOVS, B_AMSREJ, B_AMSRER, B_TMI],
                                   CLD_COLORS)), "(b)", 32.3)
pc = panel(434, 13, True, list(zip([C_NNHIRS, C_HIRSUW, C_AIRWAVE, C_GOMESCIA, C_MYD08],
                                   CLR_COLORS)), "(c)", 32.3)
pd_ = panel(448, 27, False, list(zip([D_ERAI, D_ERA20C, D_JRA55, D_CFSR, D_MERRA, D_MERRA2],
                                     ALL_LINE_COLORS)), "(d)", -3.25)
pe = panel(448, 27, False, list(zip([E_SSMI, E_NVAPC, E_NVAPO, E_HOAPS, E_REMSS,
                                     E_EMIR, E_ATOVS, E_AMSREJ, E_AMSRER, E_TMI],
                                    CLD_COLORS)), "(e)", -3.25)
pf = panel(434, 13, False, list(zip([F_NNHIRS, F_HIRSUW, F_AIRWAVE, F_GOMESCIA, F_MYD08],
                                    CLR_COLORS)), "(f)", -3.25)

layout = column(hdr, row(pa, pb, pc), row(pd_, pe, pf), margin=(8, 8, 0, 8))
open("out.html", "w").write(file_html(layout, INLINE))
